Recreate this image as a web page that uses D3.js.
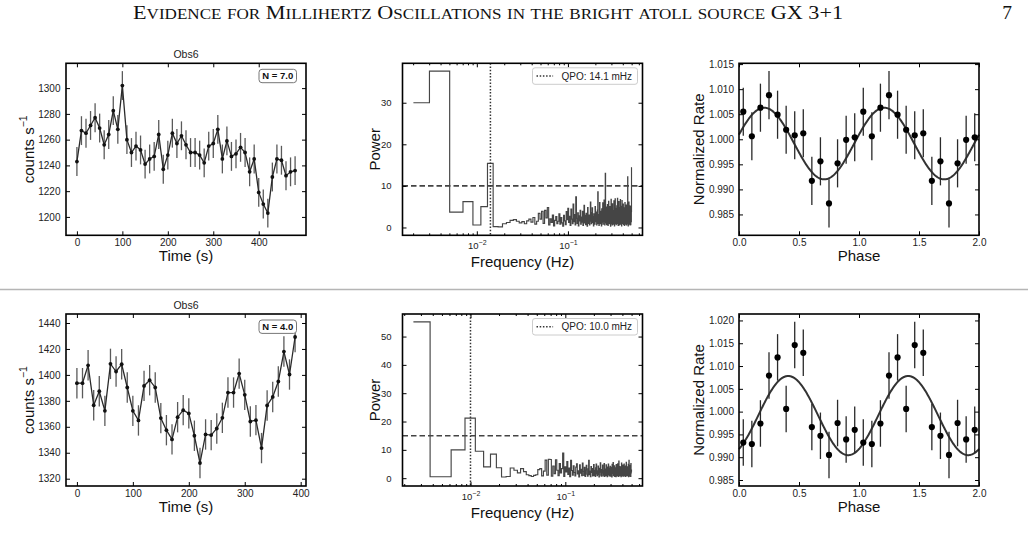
<!DOCTYPE html>
<html>
<head>
<meta charset="utf-8">
<script src="https://cdn.jsdelivr.net/npm/d3@7"></script>
<style>
  body { margin: 0; background: #fff; }
  svg { display: block; }
</style>
</head>
<body>
<div id="chart"></div>
<script>
/* GX 3+1 mHz oscillation figure - light curve, power spectrum, folded profile */

const pageTitle = 'Evidence for Millihertz Oscillations in the bright atoll source GX 3+1';
const pageNumber = '7';
const obsName = 'Obs6';

// light curves, 10 s bins
const lcTopTime = [0, 10, 20, 30, 40, 50, 60, 70, 80, 90, 100, 110, 120, 130, 140, 150, 160, 170, 180, 190,
  200, 210, 220, 230, 240, 250, 260, 270, 280, 290, 300, 310, 320, 330, 340, 350, 360, 370, 380, 390,
  400, 410, 420, 430, 440, 450, 460, 470, 480];
const lcTopRate = [1243, 1267, 1265, 1271, 1277, 1269, 1256, 1264, 1282.5, 1268, 1302, 1260, 1250, 1255, 1252,
  1241, 1245, 1247, 1264, 1237, 1248, 1265, 1257, 1263, 1256, 1250, 1250, 1248, 1242, 1255, 1257, 1268,
  1245, 1259, 1247, 1249, 1254, 1250, 1235, 1245, 1219, 1210, 1203, 1231, 1245, 1244, 1232, 1235, 1236];
const lcTopErr = 11.2;
const lcTopLabel = 'N = 7.0';

const lcBotTime = [0, 10, 20, 30, 40, 50, 60, 70, 80, 90, 100, 110, 120, 130, 140, 150, 160, 170, 180, 190,
  200, 210, 220, 230, 240, 250, 260, 270, 280, 290, 300, 310, 320, 330, 340, 350, 360, 370, 380, 390];
const lcBotRate = [1393.6, 1393.6, 1407.4, 1376.6, 1387.4, 1372.3, 1408.5, 1402.6, 1408.2, 1390.3, 1372.3,
  1364.9, 1391.5, 1395.9, 1390.3, 1366.7, 1357.4, 1350.3, 1367.4, 1372.8, 1370.3, 1353.1, 1332.1, 1354.1,
  1353.6, 1358.7, 1366.9, 1386.4, 1386.4, 1401, 1384.6, 1364.1, 1365.1, 1343.6, 1376.4, 1383, 1394.9,
  1418, 1400.3, 1429.2];
const lcBotErr = 11.7;
const lcBotLabel = 'N = 4.0';

// power spectra: harmonics k = 1..K of the base frequency
const specTopQpo = 0.0141;           // Hz
const specTopHarmonic = 7;
const specTopThreshold = 10;
const specTopLegend = 'QPO: 14.1 mHz';
const specTopPower = [
  30.0, 37.6, 3.7, 6.2, 0.6, 5.0, 15.4, 0.2, 0.15, 0.9,
  1.2, 1.7, 1.9, 1.5, 1.1, 1.4, 0.9, 1.6, 2.0, 1.3,
  2.4, 0.8, 1.5, 3.4, 2.0, 3.9, 1.0, 4.1, 2.3, 4.8,
  0.6, 2.1, 1.2, 3.0, 0.4, 1.7, 2.6, 0.9, 1.5, 3.3,
  0.8, 2.4, 1.1, 0.3, 2.9, 1.6, 0.7, 3.8, 1.9, 4.6,
  1.2, 2.7, 0.5, 4.4, 2.0, 0.9, 5.6, 1.4, 3.1, 0.6,
  7.4, 2.2, 1.0, 3.5, 0.4, 2.8, 1.6, 4.1, 0.8, 2.5,
  1.3, 3.9, 0.5, 2.0, 5.3, 1.1, 2.9, 0.7, 3.4, 1.8,
  0.3, 4.8, 2.2, 1.0, 3.0, 0.6, 2.4, 6.1, 1.5, 0.9,
  3.6, 4.7, 1.2, 2.6, 0.4, 3.3, 1.9, 0.8, 5.0, 2.1,
  1.4, 3.7, 0.6, 2.3, 4.2, 8.6, 1.0, 2.8, 0.5, 3.1,
  6.0, 1.7, 0.9, 3.9, 2.2, 0.4, 4.5, 1.3, 2.7, 5.9,
  0.8, 3.2, 1.5, 6.6, 2.0, 0.6, 3.6, 13.0, 1.1, 2.4,
  4.9, 0.7, 2.9, 1.4, 5.5, 3.0, 0.5, 2.1, 6.3, 1.2,
  3.8, 0.9, 2.6, 5.0, 1.6, 0.3, 4.3, 6.8, 2.0, 1.0,
  3.4, 0.6, 5.7, 2.3, 1.3, 4.0, 0.8, 2.9, 6.4, 1.7,
  0.4, 3.6, 2.2, 6.9, 1.0, 2.7, 4.6, 0.7, 3.1, 1.9,
  5.2, 0.9, 2.4, 7.0, 1.5, 3.3, 0.5, 4.1, 2.0, 6.2,
  1.1, 2.8, 0.6, 4.8, 3.0, 1.4, 6.7, 0.8, 2.5, 5.1,
  1.8, 3.7, 0.4, 2.2, 6.5, 1.2, 4.4, 0.9, 3.2, 1.6,
  5.6, 2.1, 0.7, 3.9, 1.3, 4.7, 2.6, 0.5, 3.5, 6.0,
  1.0, 2.3, 4.9, 0.8, 3.1, 1.7, 5.4, 2.4, 0.6, 4.0,
  1.5, 3.4, 0.9, 5.8, 12.2, 1.9, 2.9, 0.4, 4.5, 1.2,
  3.7, 6.1, 0.8, 2.2, 4.3, 1.0, 3.0, 5.2, 0.6, 2.7,
  1.6, 4.1, 0.7, 3.3, 5.0, 1.4, 3.8, 14.4
];

const specBotQpo = 0.0100;
const specBotHarmonic = 4;
const specBotThreshold = 15;
const specBotLegend = 'QPO: 10.0 mHz';
const specBotPower = [
  55.2, 0.5, 10.0, 21.2, 9.5, 4.0, 8.5, 3.7, 0.4, 0.6,
  3.6, 2.8, 1.9, 3.4, 2.3, 1.2, 0.9, 0.6, 1.0, 1.2,
  3.0, 3.4, 0.8, 2.5, 6.4, 1.1, 6.7, 6.6, 0.7, 4.3,
  1.6, 6.5, 2.8, 0.9, 5.2, 1.9, 3.4, 8.9, 0.6, 4.0,
  2.2, 5.9, 1.3, 3.6, 0.5, 6.3, 2.7, 1.1, 4.4, 2.0,
  0.8, 3.9, 5.1, 1.5, 2.6, 0.4, 4.7, 1.8, 3.1, 0.9,
  5.3, 2.4, 1.0, 3.8, 0.6, 2.9, 4.5, 1.4, 0.7, 3.3,
  6.3, 1.2, 2.5, 0.5, 4.1, 2.0, 3.4, 0.8, 1.7, 4.8,
  1.0, 2.8, 0.6, 3.7, 5.0, 1.5, 0.9, 2.6, 4.3, 1.3,
  0.4, 3.5, 2.1, 5.4, 1.1, 0.7, 3.0, 1.9, 4.6, 0.8,
  2.7, 1.4, 5.2, 0.6, 3.2, 2.0, 0.9, 4.7, 1.6, 3.9,
  0.5, 2.4, 1.2, 5.0, 2.8, 0.8, 3.6, 1.4, 4.2, 0.7,
  2.2, 3.8, 1.0, 0.4, 4.9, 1.7, 2.6, 5.5, 0.9, 3.0,
  1.3, 4.4, 0.6, 2.5, 3.7, 1.1, 0.5, 4.8, 2.0, 1.5,
  3.4, 0.8, 5.1, 1.9, 2.7, 0.6, 6.0, 1.2, 3.5, 0.9,
  4.1, 2.3, 1.0, 3.8, 0.5, 2.9, 5.3, 1.6, 0.8, 3.2,
  1.4, 4.6, 2.2, 0.7, 3.6, 1.1, 5.0, 2.5, 0.9, 3.9,
  1.8, 0.6, 4.3, 2.7, 1.2, 5.6, 0.8, 3.1, 1.5, 4.0,
  2.4, 0.9, 3.5, 1.3, 4.9, 0.5, 2.8, 6.3, 1.7, 3.2,
  0.7, 4.5, 2.0, 1.1, 3.7, 0.6, 5.2, 1.9, 2.9, 2.3
];

// folded profiles, 14 phase bins, drawn over two cycles
const phaseCenters = [0.0357, 0.1071, 0.1786, 0.25, 0.3214, 0.3929, 0.4643, 0.5357, 0.6071, 0.6786,
  0.75, 0.8214, 0.8929, 0.9643];
const phaseTopRate = [1.0055, 1.0006, 1.0063, 1.0088, 1.0049, 1.0019, 1.0008, 1.0012, 0.9917, 0.9956,
  0.9872, 0.9952, 0.9999, 1.0004];
const phaseTopErr = 0.0048;
const phaseTopFit = { mean: 0.99915, amp: 0.00715, peak: 0.21 };
const phaseBotRate = [0.9932, 0.9929, 0.9974, 1.0079, 1.0119, 1.0006, 1.0146, 1.0129, 0.9966, 0.9947,
  0.9905, 0.9975, 0.9939, 0.9960];
const phaseBotErr = 0.0051;
const phaseBotFit = { mean: 0.99913, amp: 0.00868, peak: 0.41 };

// ---------------------------------------------------------------------------

const W = 1028, H = 551;
const AW = 240, AH = 172;
const colX = { lc: 66, spec: 402.5, phase: 739 };
const rowY = [63.3, 314];
const FONT = '"Liberation Sans", Arial, Helvetica, sans-serif';
const TXT = '#222';

const svg = d3.select('#chart').append('svg')
  .attr('width', W).attr('height', H)
  .style('font-family', FONT);

// matplotlib style 5% autoscale padding
function pad(lo, hi) {
  const m = (hi - lo) * 0.05;
  return [lo - m, hi + m];
}

function styleAxis(ax, fontSize) {
  ax.select('.domain').remove();
  ax.selectAll('.tick line').attr('stroke', '#000').attr('stroke-width', 1);
  ax.selectAll('.tick text').attr('fill', TXT).attr('font-size', fontSize || 10)
    .attr('font-family', FONT);
}

function frame(g) {
  g.append('rect').attr('width', AW).attr('height', AH)
    .attr('fill', 'none').attr('stroke', '#000').attr('stroke-width', 1.6);
}

function linearAxes(g, x, y, xTicks, yTicks, xFmt, yFmt, yPad) {
  styleAxis(g.append('g').attr('transform', `translate(0,${AH})`)
    .call(d3.axisBottom(x).tickValues(xTicks).tickSize(-4).tickPadding(4).tickFormat(xFmt)));
  styleAxis(g.append('g')
    .call(d3.axisTop(x).tickValues(xTicks).tickSize(-4).tickFormat('')));
  styleAxis(g.append('g')
    .call(d3.axisLeft(y).tickValues(yTicks).tickSize(-4).tickPadding(yPad).tickFormat(yFmt)));
  styleAxis(g.append('g').attr('transform', `translate(${AW},0)`)
    .call(d3.axisRight(y).tickValues(yTicks).tickSize(-4).tickFormat('')));
}

function yLabel(g, offset, build) {
  const t = g.append('text')
    .attr('transform', `translate(${-offset},${AH / 2}) rotate(-90)`)
    .attr('text-anchor', 'middle')
    .attr('font-size', 15)
    .attr('fill', '#111');
  build(t);
}

function xLabel(g, offset, text) {
  g.append('text').attr('x', AW / 2).attr('y', AH + offset)
    .attr('text-anchor', 'middle').attr('font-size', 15).attr('fill', '#111')
    .text(text);
}

// ---- light curve panel
function drawLightCurve(row, times, rate, err, label) {
  const g = svg.append('g').attr('transform', `translate(${colX.lc},${rowY[row]})`);
  const x = d3.scaleLinear().domain(pad(d3.min(times), d3.max(times))).range([0, AW]);
  const y = d3.scaleLinear().domain(pad(d3.min(rate) - err, d3.max(rate) + err)).range([AH, 0]);
  const pts = times.map((t, i) => ({ t, v: rate[i] }));

  g.selectAll('.err').data(pts).enter().append('line')
    .attr('x1', d => x(d.t)).attr('x2', d => x(d.t))
    .attr('y1', d => y(d.v - err)).attr('y2', d => y(d.v + err))
    .attr('stroke', '#5a5a5a').attr('stroke-width', 1.3);

  g.append('path').datum(pts)
    .attr('fill', 'none').attr('stroke', '#2a2a2a').attr('stroke-width', 1.3)
    .attr('d', d3.line().x(d => x(d.t)).y(d => y(d.v)));

  g.selectAll('.pt').data(pts).enter().append('circle')
    .attr('cx', d => x(d.t)).attr('cy', d => y(d.v)).attr('r', 1.9)
    .attr('fill', '#111');

  const xt = d3.range(0, d3.max(times) + 20, 100);
  const y0 = Math.ceil(y.domain()[0] / 20) * 20;
  const yt = d3.range(y0, y.domain()[1], 20);
  linearAxes(g, x, y, xt, yt, d3.format('d'), d3.format('d'), 5.5);
  frame(g);

  // harmonic box
  const box = g.append('g').attr('transform', `translate(${AW - 47},6)`);
  box.append('rect').attr('width', 37.5).attr('height', 13.4).attr('rx', 3)
    .attr('fill', '#fff').attr('stroke', '#777').attr('stroke-width', 1);
  box.append('text').attr('x', 18.75).attr('y', 10.2).attr('text-anchor', 'middle')
    .attr('font-size', 9.5).attr('font-weight', 'bold').attr('fill', '#111').text(label);

  g.append('text').attr('x', AW / 2).attr('y', -5.5).attr('text-anchor', 'middle')
    .attr('font-size', 10.5).attr('fill', TXT).text(obsName);

  yLabel(g, 32.5, t => {
    t.append('tspan').text('counts s');
    t.append('tspan').attr('dy', -6.5).attr('font-size', 10.5).text('\u22121');
  });
  xLabel(g, 26, 'Time (s)');
}

// ---- power spectrum panel
function drawSpectrum(row, qpo, harmonic, power, threshold, legendText) {
  const g = svg.append('g').attr('transform', `translate(${colX.spec},${rowY[row]})`);
  const df = qpo / harmonic;
  const freqs = power.map((_, i) => (i + 1) * df);
  const lo = Math.log10(freqs[0]), hi = Math.log10(freqs[freqs.length - 1]);
  const ld = pad(lo, hi);
  const x = d3.scaleLog().domain([Math.pow(10, ld[0]), Math.pow(10, ld[1])]).range([0, AW]);
  const y = d3.scaleLinear().domain(pad(0, d3.max(power))).range([AH, 0]);

  // step line, steps halfway between frequencies (matplotlib where='mid')
  const pts = [];
  freqs.forEach((f, i) => {
    const a = i === 0 ? f : (freqs[i - 1] + f) / 2;
    const b = i === freqs.length - 1 ? f : (f + freqs[i + 1]) / 2;
    pts.push([a, power[i]], [b, power[i]]);
  });
  g.append('path').datum(pts)
    .attr('fill', 'none').attr('stroke', '#454545').attr('stroke-width', 1.15)
    .attr('stroke-linejoin', 'miter')
    .attr('d', d3.line().x(d => x(d[0])).y(d => y(d[1])));

  g.append('line').attr('x1', 0).attr('x2', AW)
    .attr('y1', y(threshold)).attr('y2', y(threshold))
    .attr('stroke', '#444').attr('stroke-width', 1.6).attr('stroke-dasharray', '5.5,3');

  g.append('line').attr('x1', x(qpo)).attr('x2', x(qpo))
    .attr('y1', 0).attr('y2', AH)
    .attr('stroke', '#333').attr('stroke-width', 1.5).attr('stroke-dasharray', '1.5,1.7');

  // axes
  const dom = x.domain();
  const majors = [0.001, 0.01, 0.1, 1].filter(v => v >= dom[0] && v <= dom[1]);
  const minors = x.ticks().filter(v => majors.indexOf(v) < 0);
  const yt = d3.range(0, y.domain()[1], 10);

  styleAxis(g.append('g').attr('transform', `translate(0,${AH})`)
    .call(d3.axisBottom(x).tickValues(minors).tickSize(-2).tickFormat('')));
  const xb = g.append('g').attr('transform', `translate(0,${AH})`)
    .call(d3.axisBottom(x).tickValues(majors).tickSize(-4).tickFormat(''));
  styleAxis(xb);
  xb.selectAll('.tick').append('text')
    .attr('y', 14).attr('text-anchor', 'middle').attr('fill', TXT).attr('font-size', 9.5)
    .each(function(d) {
      const t = d3.select(this);
      t.append('tspan').text('10');
      t.append('tspan').attr('dy', -4.5).attr('font-size', 7).text('\u2212' + Math.round(-Math.log10(d)));
    });
  styleAxis(g.append('g')
    .call(d3.axisTop(x).tickValues(minors).tickSize(-2).tickFormat('')));
  styleAxis(g.append('g')
    .call(d3.axisTop(x).tickValues(majors).tickSize(-4).tickFormat('')));
  styleAxis(g.append('g')
    .call(d3.axisLeft(y).tickValues(yt).tickSize(-4).tickPadding(11).tickFormat(d3.format('d'))), 9.5);
  styleAxis(g.append('g').attr('transform', `translate(${AW},0)`)
    .call(d3.axisRight(y).tickValues(yt).tickSize(-4).tickFormat('')));
  frame(g);

  // legend
  const lg = g.append('g').attr('transform', `translate(${AW - 110},4.5)`);
  lg.append('rect').attr('width', 105).attr('height', 16.5).attr('rx', 2.5)
    .attr('fill', '#fff').attr('fill-opacity', 0.85).attr('stroke', '#ccc').attr('stroke-width', 1);
  lg.append('line').attr('x1', 4).attr('x2', 20.6).attr('y1', 8.25).attr('y2', 8.25)
    .attr('stroke', '#333').attr('stroke-width', 1.5).attr('stroke-dasharray', '1.5,1.7');
  lg.append('text').attr('x', 29).attr('y', 11.8).attr('font-size', 10).attr('fill', TXT)
    .text(legendText);

  yLabel(g, 23, t => t.text('Power'));
  xLabel(g, 31.5, 'Frequency (Hz)');
}

// ---- folded profile panel
function drawPhase(row, rate, err, fit) {
  const g = svg.append('g').attr('transform', `translate(${colX.phase},${rowY[row]})`);
  const pts = [];
  [0, 1].forEach(c => phaseCenters.forEach((p, i) => pts.push({ p: p + c, v: rate[i] })));
  const x = d3.scaleLinear().domain([0, 2]).range([0, AW]);
  const y = d3.scaleLinear().domain(pad(d3.min(rate) - err, d3.max(rate) + err)).range([AH, 0]);

  // fitted sinusoid from its parameters
  const curve = d3.range(0, 2.0001, 0.005).map(p => ({
    p, v: fit.mean + fit.amp * Math.cos(2 * Math.PI * (p - fit.peak))
  }));
  g.append('path').datum(curve)
    .attr('fill', 'none').attr('stroke', '#333').attr('stroke-width', 2)
    .attr('d', d3.line().x(d => x(d.p)).y(d => y(d.v)));

  g.selectAll('.err').data(pts).enter().append('line')
    .attr('x1', d => x(d.p)).attr('x2', d => x(d.p))
    .attr('y1', d => y(d.v - err)).attr('y2', d => y(d.v + err))
    .attr('stroke', '#2a2a2a').attr('stroke-width', 1.3);

  g.selectAll('.pt').data(pts).enter().append('circle')
    .attr('cx', d => x(d.p)).attr('cy', d => y(d.v)).attr('r', 3.1)
    .attr('fill', '#000');

  const xt = [0, 0.5, 1, 1.5, 2];
  const y0 = Math.ceil(y.domain()[0] / 0.005 - 1e-6) * 0.005;
  const yt = d3.range(y0, y.domain()[1], 0.005);
  linearAxes(g, x, y, xt, yt, d3.format('.1f'), d3.format('.3f'), 5);
  frame(g);

  yLabel(g, 35, t => t.text('Normalized Rate'));
  xLabel(g, 26, 'Phase');
}

// ---- page header
const header = svg.append('text')
  .attr('x', 133).attr('y', 19)
  .attr('font-family', '"Liberation Serif", "DejaVu Serif", serif')
  .attr('fill', '#111')
  .style('white-space', 'pre')
  .attr('textLength', 710).attr('lengthAdjust', 'spacingAndGlyphs');
pageTitle.split('').forEach(ch => {
  const small = ch !== ch.toUpperCase();
  header.append('tspan').attr('font-size', small ? 15 : 19.5).text(ch.toUpperCase());
});
svg.append('text').attr('x', 1012).attr('y', 19).attr('text-anchor', 'end')
  .attr('font-family', '"Liberation Serif", "DejaVu Serif", serif')
  .attr('font-size', 19.5).attr('fill', '#111').text(pageNumber);

// separator between the two observations
svg.append('line').attr('x1', 0).attr('x2', W).attr('y1', 289.5).attr('y2', 289.5)
  .attr('stroke', '#b5b5b5').attr('stroke-width', 1.5);

drawLightCurve(0, lcTopTime, lcTopRate, lcTopErr, lcTopLabel);
drawSpectrum(0, specTopQpo, specTopHarmonic, specTopPower, specTopThreshold, specTopLegend);
drawPhase(0, phaseTopRate, phaseTopErr, phaseTopFit);

drawLightCurve(1, lcBotTime, lcBotRate, lcBotErr, lcBotLabel);
drawSpectrum(1, specBotQpo, specBotHarmonic, specBotPower, specBotThreshold, specBotLegend);
drawPhase(1, phaseBotRate, phaseBotErr, phaseBotFit);
</script>
</body>
</html>
